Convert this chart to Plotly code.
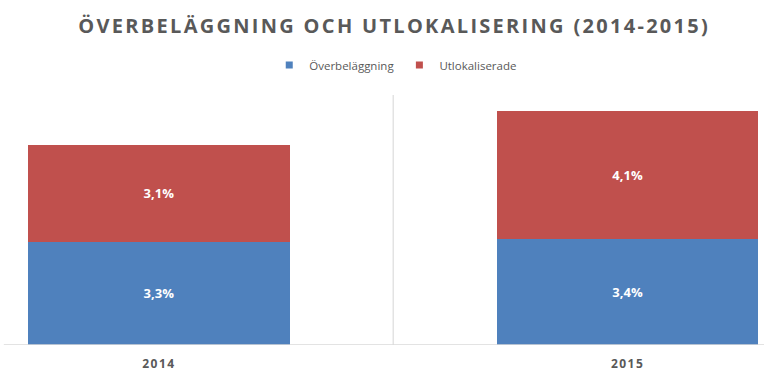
import plotly.graph_objects as go

categories = ["2014", "2015"]
overbelaggning = [3.3, 3.4]
utlokaliserade = [3.1, 4.1]
series_names = ["Överbeläggning", "Utlokaliserade"]
title_text = "ÖVERBELÄGGNING OCH UTLOKALISERING (2014-2015)"

BLUE = "#4F81BD"
RED = "#C0504D"
GRAY = "#595959"
FONT = "Open Sans"


def fmt(v):
    return f"{v:.1f}".replace(".", ",") + "%"


fig = go.Figure()
for name, vals, col in [(series_names[0], overbelaggning, BLUE),
                        (series_names[1], utlokaliserade, RED)]:
    fig.add_trace(go.Bar(
        x=[0, 1], y=vals, name=name, showlegend=False, legendgroup=name,
        marker=dict(color=col, line=dict(width=0)),
        width=0.558,
        text=[fmt(v) for v in vals],
        textposition="inside", insidetextanchor="middle",
        textfont=dict(family=FONT, size=13, color="white", weight="bold"),
        hoverinfo="skip",
    ))
for name, col in [(series_names[0], BLUE), (series_names[1], RED)]:
    fig.add_trace(go.Scatter(
        x=[None], y=[None], mode="markers", name=name, legendgroup=name,
        marker=dict(symbol="square", size=7, color=col), hoverinfo="skip",
    ))

fig.add_shape(type="line", xref="x", yref="paper", x0=0.5, x1=0.5, y0=0, y1=1,
              line=dict(color="#E3E3E3", width=1.5), layer="below")
fig.add_shape(type="line", xref="paper", yref="y", x0=0.005, x1=1, y0=0, y1=0,
              line=dict(color="#DADADA", width=1.5), layer="above")

fig.update_layout(
    width=764, height=376,
    barmode="stack",
    paper_bgcolor="white", plot_bgcolor="white",
    margin=dict(l=0, r=0, t=95, b=31),
    title=dict(text=title_text, x=0.516, xanchor="center",
               y=1 - 26 / 376, yanchor="middle",
               font=dict(family=FONT, size=20, color=GRAY, weight="bold")),
    legend=dict(orientation="h", x=0.518, xanchor="center",
                yref="container", y=1 - 65 / 376, yanchor="middle",
                font=dict(family=FONT, size=11.5, color=GRAY),
                itemwidth=30, traceorder="normal", tracegroupgap=0),
    xaxis=dict(range=[-0.339, 1.291], tickmode="array", tickvals=[0, 1],
               ticktext=categories, showgrid=False, zeroline=False,
               showline=False, ticks="", ticklabelstandoff=10,
               tickfont=dict(family=FONT, size=12, color=GRAY, weight="bold")),
    yaxis=dict(range=[0, 8], visible=False, showgrid=False, zeroline=False),
    showlegend=True,
)

post = """
document.body.style.margin='0';
document.querySelectorAll('.gtitle').forEach(function(t){t.style.letterSpacing='2.3px';});
document.querySelectorAll('.xtick text').forEach(function(t){t.style.letterSpacing='1.5px';});
"""

fig.write_html("out.html", post_script=post, config={"displayModeBar": False})
